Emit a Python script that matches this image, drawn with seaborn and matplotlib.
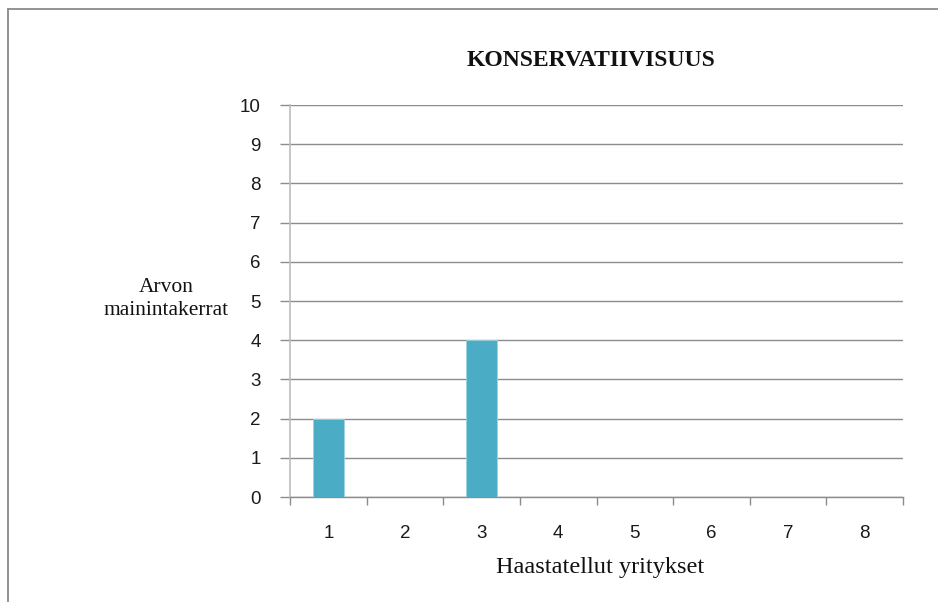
import matplotlib
matplotlib.use("Agg")
import matplotlib.pyplot as plt
from matplotlib.lines import Line2D
from matplotlib.ticker import FixedLocator
import seaborn as sns
import pandas as pd

# Data
companies = ["1", "2", "3", "4", "5", "6", "7", "8"]
mentions = [2, 0, 4, 0, 0, 0, 0, 0]
y_ticks = [0, 1, 2, 3, 4, 5, 6, 7, 8, 9, 10]

title_text = "KONSERVATIIVISUUS"
x_label = "Haastatellut yritykset"
y_label = "Arvon\nmainintakerrat"

df = pd.DataFrame({"yritys": companies, "maininnat": mentions})

sns.set_theme(style="white")
serif = ["Liberation Serif", "DejaVu Serif"]
sans = ["Liberation Sans", "DejaVu Sans"]

W, H = 938, 602
fig = plt.figure(figsize=(W / 100, H / 100), dpi=100)
ax = fig.add_axes([290 / W, 1 - 497 / H, (903 - 290) / W, (497 - 105) / H])

sns.barplot(data=df, x="yritys", y="maininnat", ax=ax, color="#4BACC6",
            width=0.4, saturation=1, edgecolor="#9fd3e0", linewidth=0.6,
            zorder=3)

ax.set_xlim(-0.5, len(companies) - 0.5)
ax.set_ylim(0, 10)
ax.set_yticks(y_ticks)
ax.yaxis.grid(True, color="#8c8c8c", linewidth=1.0, zorder=0)
ax.xaxis.grid(False)

for side in ["top", "right"]:
    ax.spines[side].set_visible(False)
ax.spines["left"].set_color("#bdbdbd")
ax.spines["left"].set_linewidth(1.2)
ax.spines["bottom"].set_color("#8c8c8c")
ax.spines["bottom"].set_linewidth(1.0)

# Y tick marks to the left; x tick marks at category boundaries
ax.tick_params(axis="y", which="major", left=True, length=7, width=1.0,
               color="#8c8c8c", pad=14, labelsize=13.5, labelcolor="#1a1a1a")
for lab in ax.get_yticklabels():
    lab.set_family(sans)

ax.xaxis.set_minor_locator(FixedLocator([i - 0.5 for i in range(len(companies) + 1)]))
ax.tick_params(axis="x", which="minor", bottom=True, length=6, width=1.0,
               color="#8c8c8c")
ax.tick_params(axis="x", which="major", bottom=False, length=0, pad=20,
               labelsize=13.5, labelcolor="#1a1a1a")
for lab in ax.get_xticklabels():
    lab.set_family(sans)

ax.set_xlabel("")
ax.set_ylabel("")

fig.text(591 / W, 1 - 60 / H, title_text, ha="center", va="center",
         family=serif, fontsize=17, fontweight="bold", color="#111111")
fig.text(600 / W, 1 - 567 / H, x_label, ha="center", va="center",
         family=serif, fontsize=17.5, color="#111111")
fig.text(166 / W, 1 - 299 / H, y_label, ha="center", va="center",
         family=serif, fontsize=15.5, color="#111111", linespacing=1.25)

# Chart frame
fig.add_artist(Line2D([8 / W, 1.0], [1 - 9 / H, 1 - 9 / H],
                      transform=fig.transFigure, color="#8a8a8a", linewidth=1.3))
fig.add_artist(Line2D([8 / W, 8 / W], [0.0, 1 - 9 / H],
                      transform=fig.transFigure, color="#8a8a8a", linewidth=1.3))

fig.savefig("out.png", dpi=100)
